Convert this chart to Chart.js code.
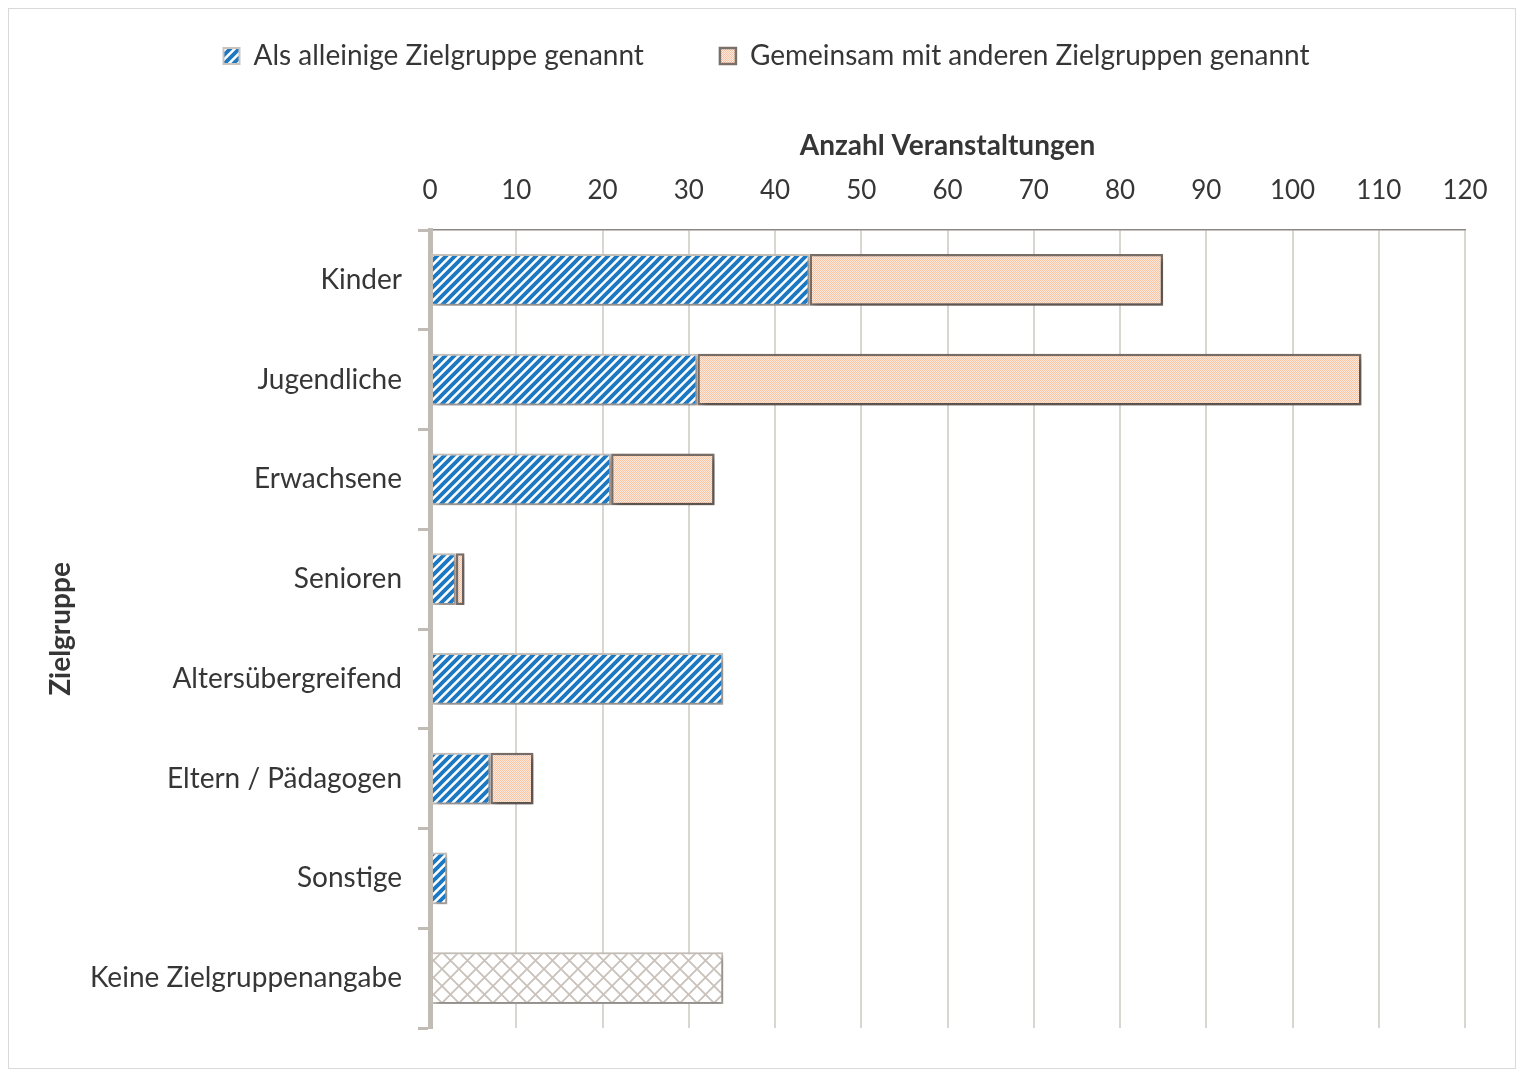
<!DOCTYPE html>
<html>
<head>
<meta charset="utf-8">
<script src="https://cdn.jsdelivr.net/npm/chart.js@4.4.1/dist/chart.umd.min.js"></script>
<style>
  html, body { margin: 0; padding: 0; background: #fff; }
  #wrap { width: 1524px; height: 1077px; }
</style>
</head>
<body>
<div id="wrap"><canvas id="chart" width="1524" height="1077"></canvas></div>
<script>
// Zielgruppen der Veranstaltungen
const categories = [
  'Kinder',
  'Jugendliche',
  'Erwachsene',
  'Senioren',
  'Altersübergreifend',
  'Eltern / Pädagogen',
  'Sonstige',
  'Keine Zielgruppenangabe',
];
const alleinValues = [44, 31, 21, 3, 34, 7, 2, null];
const gemeinsamValues = [41, 77, 12, 1, null, 5, null, null];
const keineValues = [null, null, null, null, null, null, null, 34];
const xMax = 120;
const xStep = 10;

const FONT = 'Lato, "Open Sans", sans-serif';
const TEXT = '#363636';

function makePattern(size, draw) {
  const c = document.createElement('canvas');
  c.width = size;
  c.height = size;
  const g = c.getContext('2d');
  draw(g, size);
  return g.createPattern(c, 'repeat');
}

// blaue Schraffur (/)
const stripes = makePattern(9, (g, s) => {
  g.fillStyle = '#ffffff';
  g.fillRect(0, 0, s, s);
  g.strokeStyle = '#1c78c2';
  g.lineWidth = 3.8;
  g.beginPath();
  g.moveTo(-s / 2, s / 2); g.lineTo(s / 2, -s / 2);
  g.moveTo(0, s); g.lineTo(s, 0);
  g.moveTo(s / 2, s * 1.5); g.lineTo(s * 1.5, s / 2);
  g.stroke();
});

// feines Punktmuster (pfirsich)
const dots = makePattern(2, (g) => {
  g.fillStyle = '#fee9dd';
  g.fillRect(0, 0, 2, 2);
  g.fillStyle = '#f7c5a6';
  g.fillRect(0, 0, 1, 1);
  g.fillRect(1, 1, 1, 1);
});

// graues Gitter
const cross = makePattern(17, (g, s) => {
  g.fillStyle = '#ffffff';
  g.fillRect(0, 0, s, s);
  g.strokeStyle = '#c9c1ba';
  g.lineWidth = 1.8;
  g.beginPath();
  g.moveTo(0, 0); g.lineTo(s, s);
  g.moveTo(0, s); g.lineTo(s, 0);
  g.stroke();
});

const frame = {
  id: 'frame',
  beforeDraw(chart) {
    const ctx = chart.ctx;
    ctx.save();
    ctx.fillStyle = '#ffffff';
    ctx.fillRect(0, 0, chart.width, chart.height);
    ctx.strokeStyle = '#d9d9d9';
    ctx.lineWidth = 1;
    ctx.strokeRect(8.5, 8.5, chart.width - 17, chart.height - 17);
    ctx.restore();
  },
};

const barShadow = {
  id: 'barShadow',
  beforeDatasetsDraw(chart) {
    const ctx = chart.ctx;
    ctx.save();
    ctx.shadowColor = 'rgba(0,0,0,0.35)';
    ctx.shadowBlur = 6;
    ctx.shadowOffsetX = 3;
    ctx.shadowOffsetY = 3;
  },
  afterDatasetsDraw(chart) {
    chart.ctx.restore();
  },
};

new Chart(document.getElementById('chart'), {
  type: 'bar',
  data: {
    labels: categories,
    datasets: [
      {
        label: 'Als alleinige Zielgruppe genannt',
        data: alleinValues,
        backgroundColor: stripes,
        borderColor: '#cbc4be',
        borderWidth: 2,
        borderSkipped: false,
      },
      {
        label: 'Gemeinsam mit anderen Zielgruppen genannt',
        data: gemeinsamValues,
        backgroundColor: dots,
        borderColor: '#7b6f69',
        borderWidth: 2.5,
        borderSkipped: false,
      },
      {
        label: 'Keine Zielgruppenangabe',
        data: keineValues,
        backgroundColor: cross,
        borderColor: '#cbc4be',
        borderWidth: 2,
        borderSkipped: false,
      },
    ],
  },
  options: {
    indexAxis: 'y',
    responsive: false,
    devicePixelRatio: 1,
    animation: false,
    barPercentage: 0.52,
    categoryPercentage: 1,
    layout: { padding: { top: -34, left: 68, right: 59, bottom: 49 } },
    plugins: {
      legend: {
        position: 'top',
        labels: {
          boxWidth: 16,
          boxHeight: 16,
          padding: 76,
          color: TEXT,
          font: { family: FONT, size: 28 },
          filter: (item) => item.datasetIndex < 2,
        },
      },
      tooltip: { enabled: false },
    },
    scales: {
      x: {
        position: 'top',
        stacked: true,
        min: 0,
        max: xMax,
        ticks: { stepSize: xStep, padding: 24, color: TEXT, font: { family: FONT, size: 26 } },
        grid: { color: '#d9d5d1', lineWidth: 2, drawTicks: false },
        border: { color: '#8c8782', width: 1.5 },
        title: {
          display: true,
          text: 'Anzahl Veranstaltungen',
          color: TEXT,
          font: { family: FONT, size: 28, weight: 'bold' },
          padding: { top: 49, bottom: 0 },
        },
        afterFit(scale) { scale.height = 150; },
      },
      y: {
        stacked: true,
        ticks: { padding: 16, color: TEXT, font: { family: FONT, size: 28 } },
        grid: {
          drawOnChartArea: false,
          drawTicks: true,
          tickLength: 12,
          tickColor: '#c0bbb5',
          tickWidth: 3,
          offset: true,
        },
        border: { color: '#c0bbb5', width: 5 },
        title: {
          display: true,
          text: 'Zielgruppe',
          color: TEXT,
          font: { family: FONT, size: 28, weight: 'bold' },
          padding: { top: -24, bottom: 4 },
        },
        afterFit(scale) { scale.width = 362; },
      },
    },
  },
  plugins: [frame, barShadow],
});
</script>
</body>
</html>
